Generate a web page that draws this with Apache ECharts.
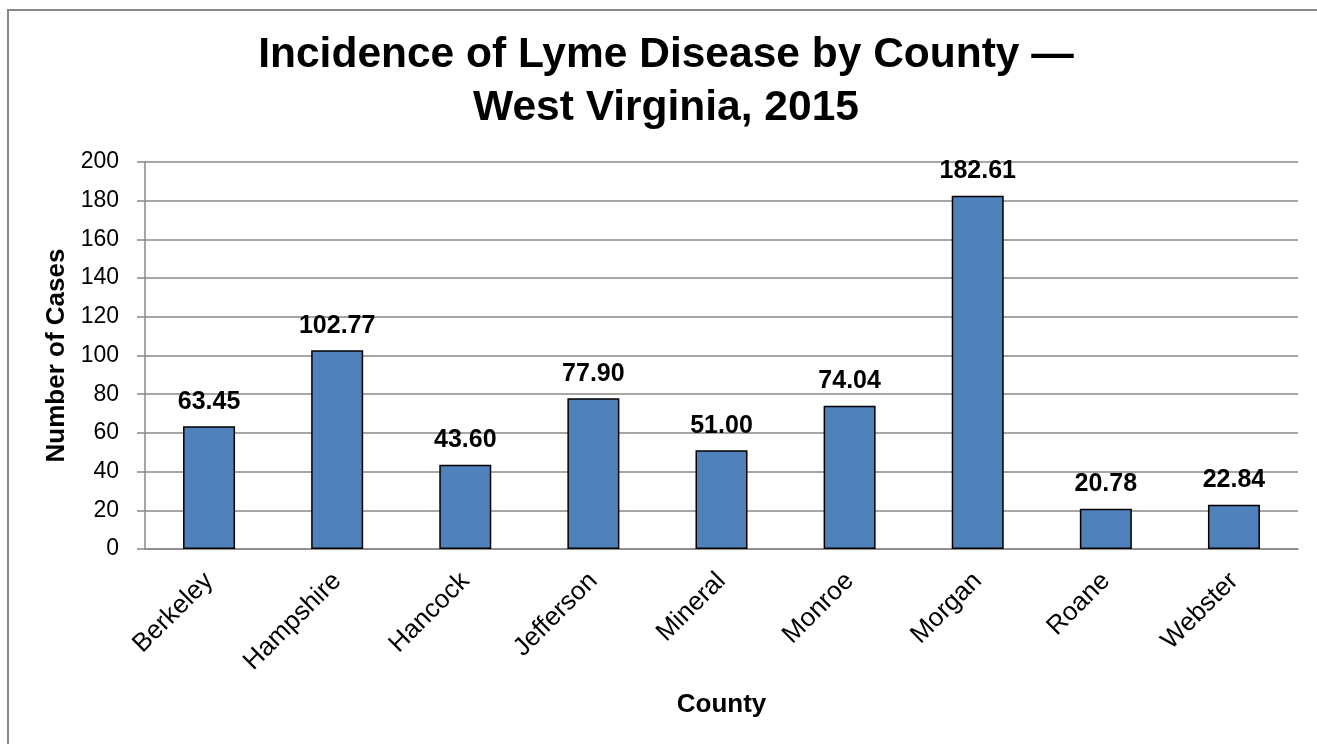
<!DOCTYPE html>
<html>
<head>
<meta charset="utf-8">
<script src="https://cdn.jsdelivr.net/npm/echarts@6/dist/echarts.min.js"></script>
<style>
html,body{margin:0;padding:0;background:#fff;}
#chart{width:1317px;height:744px;}
</style>
</head>
<body>
<div id="chart"></div>
<script>
var counties = ['Berkeley','Hampshire','Hancock','Jefferson','Mineral','Monroe','Morgan','Roane','Webster'];
var cases = [63.45, 102.77, 43.60, 77.90, 51.00, 74.04, 182.61, 20.78, 22.84];
var titleText = 'Incidence of Lyme Disease by County —\nWest Virginia, 2015';
var yName = 'Number of Cases';
var xName = 'County';

var chart = echarts.init(document.getElementById('chart'));
var font = '"Liberation Sans", Arial, sans-serif';
chart.setOption({
  animation: false,
  backgroundColor: '#fff',
  title: {
    text: titleText,
    left: 661,
    top: 24,
    textAlign: 'center',
    textStyle: {fontFamily: font, fontSize: 42.5, fontWeight: 'bold', color: '#000', lineHeight: 53}
  },
  graphic: [{
    type: 'rect',
    shape: {x: 8, y: 10, width: 1330, height: 760},
    style: {fill: 'none', stroke: '#888', lineWidth: 2},
    silent: true
  }],
  grid: {left: 145, right: 19, top: 162, bottom: 195, containLabel: false},
  xAxis: {
    type: 'category',
    data: counties,
    name: xName,
    nameLocation: 'middle',
    nameGap: 143,
    nameTextStyle: {fontFamily: font, fontSize: 26, fontWeight: 'bold', color: '#000'},
    axisLine: {lineStyle: {color: '#888', width: 1.5}},
    axisTick: {show: false},
    axisLabel: {rotate: 45, fontFamily: font, fontSize: 26, color: '#000', margin: 28, interval: 0}
  },
  yAxis: {
    type: 'value',
    min: 0, max: 200, interval: 20,
    name: yName,
    nameLocation: 'middle',
    nameGap: 72,
    nameTextStyle: {fontFamily: font, fontSize: 26, fontWeight: 'bold', color: '#000'},
    axisLine: {show: true, lineStyle: {color: '#888', width: 1.5}},
    axisTick: {show: true, length: 8, lineStyle: {color: '#888', width: 1.5}},
    axisLabel: {fontFamily: font, fontSize: 23, color: '#000', margin: 26},
    splitLine: {lineStyle: {color: '#888', width: 1.5}}
  },
  series: [{
    type: 'bar',
    data: cases,
    barWidth: 52,
    itemStyle: {color: '#4F81BD', borderColor: '#000', borderWidth: 1.5},
    label: {
      show: true,
      position: 'top',
      distance: 12,
      formatter: function (p) { return p.value.toFixed(2); },
      fontFamily: font, fontSize: 25, fontWeight: 'bold', color: '#000'
    }
  }]
});
</script>
</body>
</html>
